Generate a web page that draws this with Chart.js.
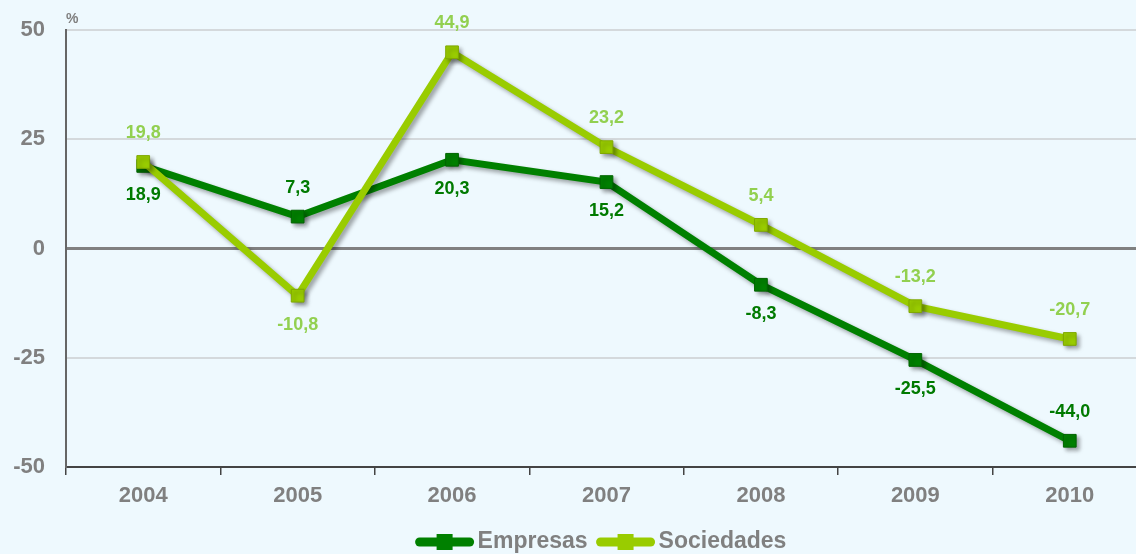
<!DOCTYPE html>
<html>
<head>
<meta charset="utf-8">
<script src="https://cdn.jsdelivr.net/npm/chart.js@4/dist/chart.umd.min.js"></script>
<style>
  html, body { margin: 0; padding: 0; background: #eef9fe; overflow: hidden; }
  canvas { display: block; }
</style>
</head>
<body>
<canvas id="lineChart" width="1147" height="554"></canvas>
<script>
// chart data
const years = ['2004', '2005', '2006', '2007', '2008', '2009', '2010'];
const empresas = [18.9, 7.3, 20.3, 15.2, -8.3, -25.5, -44.0];
const sociedades = [19.8, -10.8, 44.9, 23.2, 5.4, -13.2, -20.7];
// label above (-1) or below (+1) the point
const empresasLabelPos = [1, -1, 1, 1, 1, 1, -1];
const sociedadesLabelPos = [-1, 1, -1, -1, -1, -1, -1];
const yTicks = [-50, -25, 0, 25, 50];

const FONT = '"Liberation Sans", Arial, sans-serif';
const GRAY = '#808080';

// number with a decimal comma, like "18,9"
function fmt(v) {
    return v.toFixed(1).replace('.', ',');
}

// shadow under lines and markers
const shadowPlugin = {
    id: 'shadow',
    beforeDatasetDraw(chart) {
        const c = chart.ctx;
        c.save();
        c.shadowColor = 'rgba(0,0,0,0.35)';
        c.shadowBlur = 4;
        c.shadowOffsetX = 3;
        c.shadowOffsetY = 3;
    },
    afterDatasetDraw(chart) {
        chart.ctx.restore();
    }
};

// value labels next to the points
const valueLabels = {
    id: 'valueLabels',
    afterDatasetsDraw(chart) {
        const c = chart.ctx;
        c.save();
        c.font = 'bold 18px ' + FONT;
        c.textAlign = 'center';
        c.textBaseline = 'middle';
        chart.data.datasets.forEach((ds, i) => {
            const meta = chart.getDatasetMeta(i);
            meta.data.forEach((pt, j) => {
                c.fillStyle = ds.labelColor;
                c.fillText(fmt(ds.data[j]), pt.x, pt.y + ds.labelPos[j] * 29);
            });
        });
        // the "%" unit above the y axis
        c.font = 'bold 14px ' + FONT;
        c.fillStyle = GRAY;
        c.textAlign = 'left';
        c.fillText('%', chart.chartArea.left, chart.chartArea.top - 11);
        c.restore();
    }
};

// legend: line with square marker, then name
const customLegend = {
    id: 'customLegend',
    afterDraw(chart) {
        const c = chart.ctx;
        const items = [chart.data.datasets[1], chart.data.datasets[0]];
        c.save();
        c.font = 'bold 23px ' + FONT;
        c.textBaseline = 'middle';
        const lineW = 58, gap = 4, between = 9;
        let total = 0;
        items.forEach((ds, k) => {
            total += lineW + gap + c.measureText(ds.label).width + (k ? 0 : between);
        });
        let x = 601 - total / 2;
        const y = 542;
        items.forEach(ds => {
            c.strokeStyle = ds.borderColor;
            c.lineWidth = 9;
            c.lineCap = 'round';
            c.beginPath();
            c.moveTo(x + 4, y);
            c.lineTo(x + lineW - 4, y);
            c.stroke();
            c.fillStyle = ds.pointBackgroundColor;
            c.fillRect(x + lineW / 2 - 8, y - 8, 16, 16);
            x += lineW + gap;
            c.fillStyle = GRAY;
            c.textAlign = 'left';
            c.fillText(ds.label, x, y);
            x += c.measureText(ds.label).width + between;
        });
        c.restore();
    }
};

const ctx = document.getElementById('lineChart').getContext('2d');
const lineChart = new Chart(ctx, {
    type: 'line',
    data: {
        labels: years,
        datasets: [
            {
                label: 'Sociedades',
                data: sociedades,
                borderColor: '#99cc00',
                backgroundColor: '#99cc00',
                pointBackgroundColor: '#99cc00',
                pointBorderColor: '#7fa800',
                labelColor: '#92d050',
                labelPos: sociedadesLabelPos,
                borderWidth: 7,
                pointStyle: 'rect',
                pointRadius: 9,
                pointBorderWidth: 1,
                tension: 0,
                order: 0
            },
            {
                label: 'Empresas',
                data: empresas,
                borderColor: '#008000',
                backgroundColor: '#008000',
                pointBackgroundColor: '#008000',
                pointBorderColor: '#006400',
                labelColor: '#007a00',
                labelPos: empresasLabelPos,
                borderWidth: 7,
                pointStyle: 'rect',
                pointRadius: 9,
                pointBorderWidth: 1,
                tension: 0,
                order: 1
            }
        ]
    },
    options: {
        responsive: false,
        animation: false,
        layout: { autoPadding: false, padding: { top: 30, bottom: 47, left: 0, right: 0 } },
        plugins: {
            legend: { display: false },
            tooltip: { enabled: false }
        },
        scales: {
            x: {
                offset: true,
                grid: {
                    offset: true,
                    drawOnChartArea: false,
                    drawTicks: true,
                    tickLength: 8,
                    color: '#444',
                    lineWidth: 1.5
                },
                border: { color: '#444', width: 2 },
                ticks: {
                    color: GRAY,
                    padding: 8,
                    font: { family: FONT, size: 22, weight: 'bold' }
                },
                afterFit(scale) {
                    scale.height = 40;
                    scale.paddingLeft = 0;
                    scale.paddingRight = 0;
                }
            },
            y: {
                min: -50,
                max: 50,
                afterBuildTicks(scale) {
                    scale.ticks = yTicks.map(v => ({ value: v }));
                },
                grid: {
                    drawTicks: false,
                    color: c => c.tick.value === 0 ? GRAY : (c.tick.value === -50 ? '#444' : '#d4d9dc'),
                    lineWidth: c => c.tick.value === 0 ? 3 : 2
                },
                border: { color: '#666', width: 2 },
                ticks: {
                    color: GRAY,
                    padding: 21,
                    font: { family: FONT, size: 22, weight: 'bold' },
                    callback: v => v
                },
                afterFit(scale) {
                    scale.width = 66;
                    scale.paddingTop = 0;
                    scale.paddingBottom = 0;
                }
            }
        }
    },
    plugins: [shadowPlugin, valueLabels, customLegend]
});
</script>
</body>
</html>
